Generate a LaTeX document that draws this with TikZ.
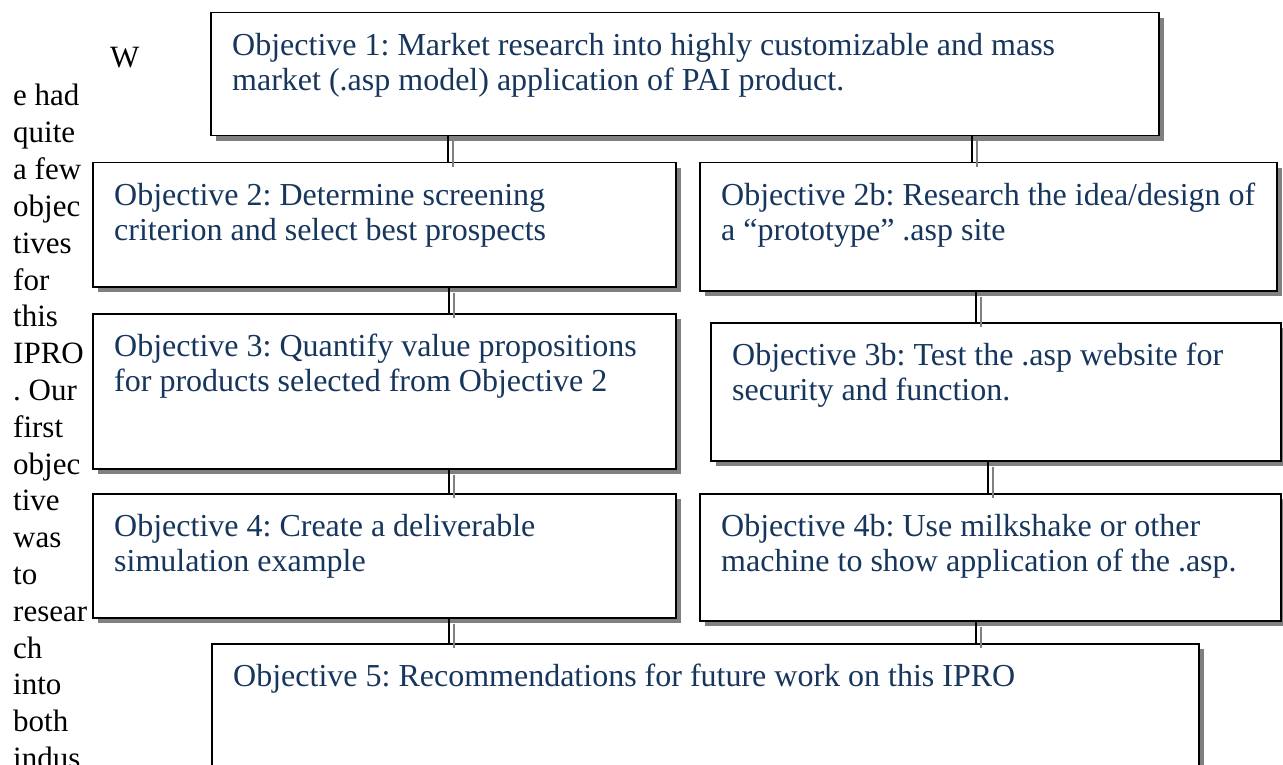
\documentclass[tikz,border=0pt]{standalone}
\usepackage{fontspec}
\setmainfont{Liberation Serif}
\usetikzlibrary{shadows}
\definecolor{objblue}{RGB}{23,54,93}
\definecolor{shadowgray}{RGB}{128,128,128}
\frenchspacing

\begin{document}
\begin{tikzpicture}[x=1pt,y=-1pt,
  objbox/.style={draw=black, line width=1.5pt, fill=white, inner sep=0pt, anchor=north west,
    general shadow={fill=shadowgray, shadow xshift=5pt, shadow yshift=-5pt}},
  objtext/.style={anchor=north west, inner sep=0pt, align=left, text=objblue,
    font=\fontsize{32}{35}\selectfont},
  bodytext/.style={anchor=base west, inner sep=0pt, font=\fontsize{31}{36.6}\selectfont},
  link/.style={draw=black, line width=1.5pt},
  linkshadow/.style={draw=shadowgray, line width=1.5pt, transform canvas={shift={(5pt,-5pt)}}}
]
\useasboundingbox (0,0) rectangle (1283,765);
\clip (0,0) rectangle (1283,765);

% running text in the narrow left column
\node[bodytext] (wcap) at (110,68) {W};
\foreach \w [count=\i from 0] in {e had,quite,a few,objec,tives,for,this,IPRO,. Our,first,objec,tive,was,to,resear,ch,into,both,indus}
  \node[bodytext] (line\i) at (13,{106+36.8*\i}) {\w};

% objective boxes
\node[objbox, minimum width=948pt, minimum height=123pt] (o1)  at (210,12)  {};
\node[objbox, minimum width=583pt, minimum height=124pt] (o2)  at (92,162)  {};
\node[objbox, minimum width=577pt, minimum height=128pt] (o2b) at (699,162) {};
\node[objbox, minimum width=583pt, minimum height=155pt] (o3)  at (92,313)  {};
\node[objbox, minimum width=570pt, minimum height=138pt] (o3b) at (710,322) {};
\node[objbox, minimum width=583pt, minimum height=124pt] (o4)  at (92,493)  {};
\node[objbox, minimum width=581pt, minimum height=127pt] (o4b) at (699,493) {};
\node[objbox, minimum width=987pt, minimum height=177pt] (o5)  at (211,643) {};

% box captions
\node[objtext] (t1)  at ([shift={(22pt,-21pt)}]o1.north west)  {Objective 1: Market research into highly customizable and mass\\market (.asp model) application of PAI product.};
\node[objtext] (t2)  at ([shift={(22pt,-21pt)}]o2.north west)  {Objective 2: Determine screening\\criterion and select best prospects};
\node[objtext] (t2b) at ([shift={(22pt,-21pt)}]o2b.north west) {Objective 2b: Research the idea/design of\\a “prototype” .asp site};
\node[objtext] (t3)  at ([shift={(22pt,-21pt)}]o3.north west)  {Objective 3: Quantify value propositions\\for products selected from Objective 2};
\node[objtext] (t3b) at ([shift={(22pt,-21pt)}]o3b.north west) {Objective 3b: Test the .asp website for\\security and function.};
\node[objtext] (t4)  at ([shift={(22pt,-21pt)}]o4.north west)  {Objective 4: Create a deliverable\\simulation example};
\node[objtext] (t4b) at ([shift={(22pt,-21pt)}]o4b.north west) {Objective 4b: Use milkshake or other\\machine to show application of the .asp.};
\node[objtext] (t5)  at ([shift={(22pt,-21pt)}]o5.north west)  {Objective 5: Recommendations for future work on this IPRO};

% x positions of the vertical links
\coordinate (k1) at (448,0);
\coordinate (k2) at (972,0);
\coordinate (k3) at (449,0);
\coordinate (k4) at (976,0);
\coordinate (k5) at (449,0);
\coordinate (k6) at (988,0);
\coordinate (k7) at (449,0);
\coordinate (k8) at (976,0);

\foreach \a/\b/\k in {o1/o2/k1, o1/o2b/k2, o2/o3/k3, o2b/o3b/k4, o3/o4/k5, o3b/o4b/k6, o4/o5/k7, o4b/o5/k8} {
  \draw[linkshadow] (\a.south -| \k) -- (\b.north -| \k);
  \draw[link] (\a.south -| \k) -- (\b.north -| \k);
}
\end{tikzpicture}
\end{document}
